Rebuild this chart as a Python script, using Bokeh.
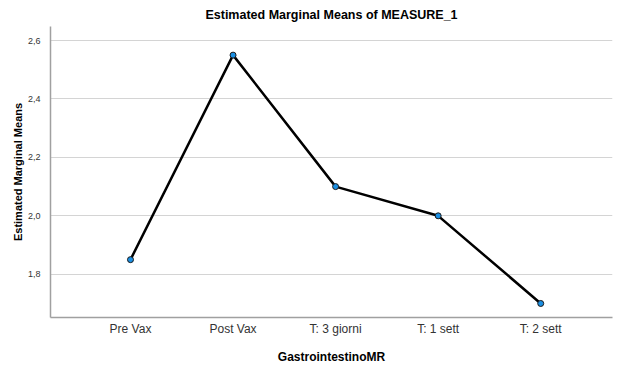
from bokeh.plotting import figure
from bokeh.models import ColumnDataSource, FixedTicker, CustomJSTickFormatter, Range1d
from bokeh.embed import file_html
from bokeh.resources import INLINE

categories = ["Pre Vax", "Post Vax", "T: 3 giorni", "T: 1 sett", "T: 2 sett"]
means = [1.85, 2.55, 2.10, 2.00, 1.70]
y_ticks = [1.8, 2.0, 2.2, 2.4, 2.6]

xpos = list(range(len(categories)))
src = ColumnDataSource(dict(x=xpos, y=means))

FONT = "Liberation Sans"

p = figure(width=619, height=366, output_backend="svg", toolbar_location=None,
           x_range=Range1d(-0.78, 4.70), y_range=Range1d(1.652, 2.648),
           min_border_left=50, min_border_right=7, min_border_top=18, min_border_bottom=0,
           title="Estimated Marginal Means of MEASURE_1")
p.outline_line_color = None
p.background_fill_color = "white"

p.title.align = "center"
p.title.text_font = FONT
p.title.text_font_size = "12.5px"
p.title.text_font_style = "bold"
p.title.text_color = "#000000"
p.title.offset = 0

p.xgrid.grid_line_color = None
p.ygrid.grid_line_color = "#d4d4d4"
p.ygrid.grid_line_width = 1

p.xaxis.ticker = FixedTicker(ticks=xpos)
p.xaxis.major_label_overrides = {i: c for i, c in enumerate(categories)}
p.yaxis.ticker = FixedTicker(ticks=y_ticks)
p.yaxis.formatter = CustomJSTickFormatter(code="return tick.toFixed(1).replace('.', ',');")

for ax in (p.xaxis[0], p.yaxis[0]):
    ax.axis_line_color = "#a0a0a0"
    ax.axis_line_width = 1.5
    ax.major_tick_line_color = None
    ax.minor_tick_line_color = None
    ax.axis_label_text_font = FONT
    ax.axis_label_text_font_style = "bold"
    ax.axis_label_text_color = "#000000"
    ax.major_label_text_font = FONT
    ax.major_label_text_color = "#333333"

p.xaxis.axis_label = "GastrointestinoMR"
p.xaxis.axis_label_text_font_size = "12px"
p.xaxis.major_label_text_font_size = "12px"
p.xaxis.major_label_standoff = -2
p.xaxis.axis_label_standoff = 11

p.yaxis.axis_label = "Estimated Marginal Means"
p.yaxis.axis_label_text_font_size = "11px"
p.yaxis.major_label_text_font_size = "9px"
p.yaxis.major_label_standoff = 4
p.yaxis.axis_label_standoff = 1

p.line("x", "y", source=src, line_color="black", line_width=2.5)
p.scatter("x", "y", source=src, size=6, fill_color="#1a8fe3", line_color="#1a1a1a", line_width=1)

open("out.html", "w").write(file_html(p, INLINE))
